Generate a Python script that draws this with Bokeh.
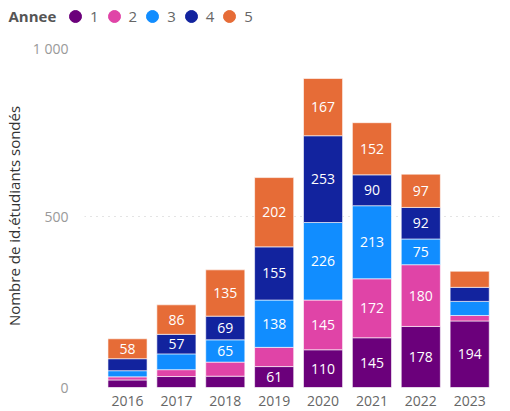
from bokeh.plotting import figure
from bokeh.models import ColumnDataSource, Range1d, FixedTicker, Legend, LegendItem, Label
from bokeh.core.properties import value
from bokeh.embed import file_html
from bokeh.resources import INLINE

years = ["2016", "2017", "2018", "2019", "2020", "2021", "2022", "2023"]
annee_1 = [22, 32, 33, 61, 110, 145, 178, 194]
annee_2 = [9, 20, 41, 56, 145, 172, 180, 16]
annee_3 = [18, 46, 65, 138, 226, 213, 75, 41]
annee_4 = [35, 57, 69, 155, 253, 90, 92, 41]
annee_5 = [58, 86, 135, 202, 167, 152, 97, 47]
series_names = ["1", "2", "3", "4", "5"]
colors = ["#6B007B", "#E044A7", "#118DFF", "#12239E", "#E66C37"]
y_ticks = [0, 500, 1000]
y_tick_labels = ["0", "500", "1 000"]

FONT = "Open Sans"
series = [annee_1, annee_2, annee_3, annee_4, annee_5]
xs = list(range(len(years)))
keys = ["a1", "a2", "a3", "a4", "a5"]
data = {"x": xs}
for k, s in zip(keys, series):
    data[k] = s
src = ColumnDataSource(data)

# ---- legend strip (separate root) ----
LH = 38
lg = figure(width=494, height=LH, output_backend="svg", toolbar_location=None,
            x_range=Range1d(0, 1), y_range=Range1d(0, 1),
            x_axis_location=None, y_axis_location=None,
            min_border_left=0, min_border_right=0, min_border_top=0, min_border_bottom=0)
lg.grid.visible = False
lg.outline_line_color = None
nan = float("nan")
items = []
for name, c in zip(series_names, colors):
    r = lg.scatter(x=[nan], y=[nan], marker="circle", size=12, fill_color=c, line_color=c)
    items.append(LegendItem(label=name, renderers=[r]))
legend = Legend(items=items, orientation="horizontal", location=(60, 7),
                label_text_font=FONT, label_text_font_size="15px",
                label_text_color="#666666", glyph_width=30, glyph_height=30,
                label_standoff=-6, label_width=0, spacing=-2, padding=0, margin=0,
                border_line_color=None, background_fill_alpha=0)
lg.add_layout(legend, "center")
lg.add_layout(Label(x=8, y=LH - 15, x_units="screen", y_units="screen", text="Annee",
                    text_baseline="middle",
                    text_font=FONT, text_font_style="bold", text_font_size="15px",
                    text_color="#555555"))

# ---- chart ----
FH = 343
p = figure(frame_width=415, frame_height=FH, output_backend="svg", toolbar_location=None,
           x_range=Range1d(-0.88, 7.61), y_range=Range1d(0, 1000),
           min_border_left=0, min_border_right=2, min_border_top=6, min_border_bottom=0)
p.outline_line_color = None
p.background_fill_color = "white"

p.vbar_stack(keys, x="x", width=0.8, source=src, color=colors,
             line_color="white", line_alpha=0.6, line_width=1)

lx, ly, lt = [], [], []
for i in xs:
    base = 0
    for s in series:
        v = s[i]
        if v >= 57:
            lx.append(i)
            ly.append(base + v / 2)
            lt.append(str(v))
        base += v
p.text(x=lx, y=ly, text=lt, text_align="center", text_baseline="middle",
       text_color="white", text_font=value(FONT), text_font_size="14px")

p.xaxis.ticker = FixedTicker(ticks=xs)
p.xaxis.major_label_overrides = {i: y for i, y in enumerate(years)}
p.xaxis.axis_line_color = None
p.xaxis.major_tick_line_color = None
p.xaxis.minor_tick_line_color = None
p.xaxis.major_label_standoff = 2
p.xaxis.major_label_text_font = FONT
p.xaxis.major_label_text_font_size = "14px"
p.xaxis.major_label_text_color = "#666666"

p.yaxis.ticker = FixedTicker(ticks=y_ticks)
p.yaxis.major_label_overrides = {t: l for t, l in zip(y_ticks, y_tick_labels)}
p.yaxis.axis_line_color = None
p.yaxis.major_tick_line_color = None
p.yaxis.minor_tick_line_color = None
p.yaxis.major_label_standoff = 10
p.yaxis.major_label_text_font = FONT
p.yaxis.major_label_text_font_size = "14px"
p.yaxis.major_label_text_color = "#999999"
p.yaxis.axis_label = "Nombre de id.étudiants sondés"
p.yaxis.axis_label_text_font = FONT
p.yaxis.axis_label_text_font_style = "normal"
p.yaxis.axis_label_text_font_size = "15px"
p.yaxis.axis_label_text_color = "#333333"
p.yaxis.axis_label_standoff = 6

p.xgrid.grid_line_color = None
p.ygrid.grid_line_color = "#C8C8C8"
p.ygrid.grid_line_dash = "1 5"
p.ygrid.grid_line_width = 1

open("out.html", "w").write(file_html([lg, p], INLINE))
